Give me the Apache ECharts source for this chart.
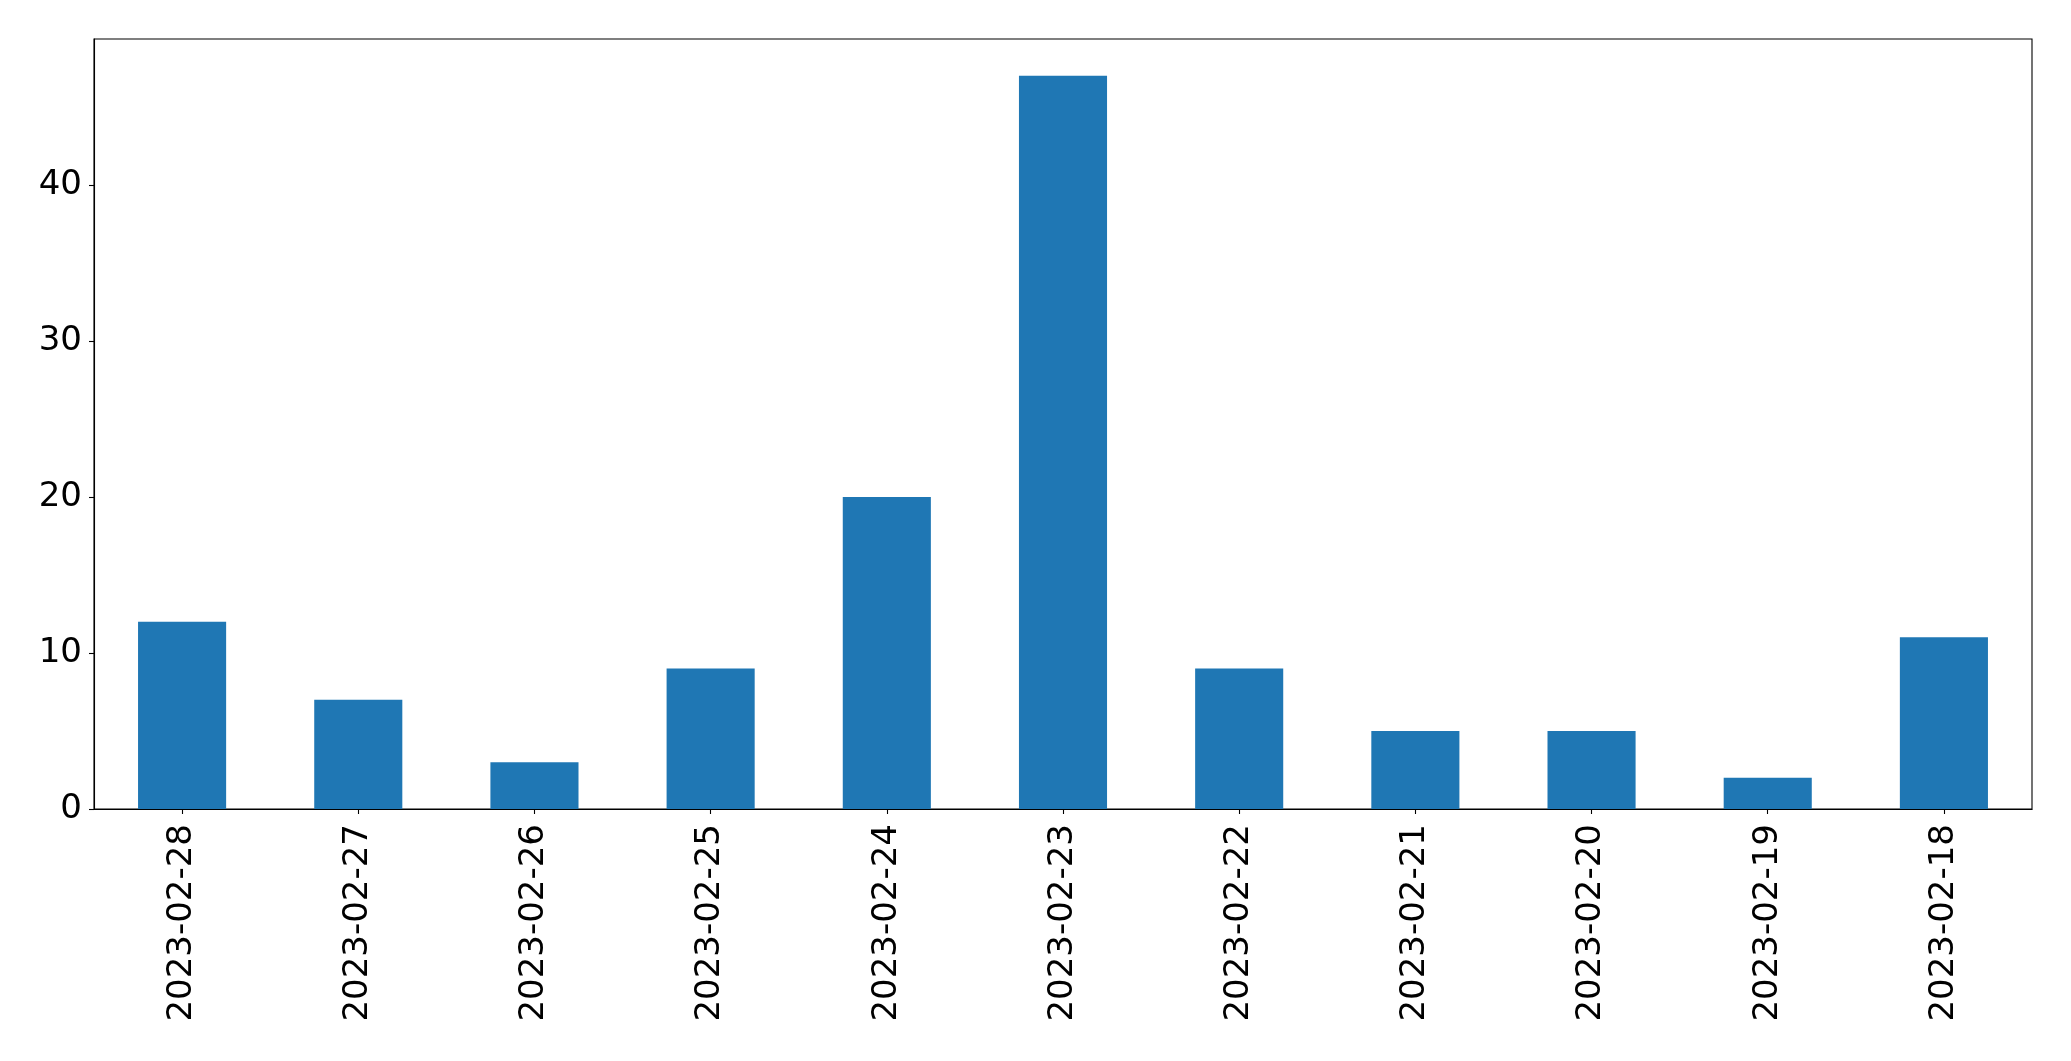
<!DOCTYPE html>
<html>
<head>
<meta charset="utf-8">
<script src="https://cdn.jsdelivr.net/npm/echarts@6/dist/echarts.min.js"></script>
<style>
html,body{margin:0;padding:0;background:#fff;}
#chart{width:2071px;height:1061px;}
</style>
</head>
<body>
<div id="chart"></div>
<script>
const categories = ['2023-02-28','2023-02-27','2023-02-26','2023-02-25','2023-02-24','2023-02-23','2023-02-22','2023-02-21','2023-02-20','2023-02-19','2023-02-18'];
const values = [12, 7, 3, 9, 20, 47, 9, 5, 5, 2, 11];
const yTicks = [0, 10, 20, 30, 40];
const yMax = 49.35;

const chart = echarts.init(document.getElementById('chart'), null, {renderer: 'canvas'});
const font = 'DejaVu Sans';
chart.setOption({
  animation: false,
  backgroundColor: '#ffffff',
  grid: {left: 94, right: 39, top: 39, bottom: 252, show: true, borderColor: '#000', borderWidth: 1.1, containLabel: false},
  xAxis: {
    type: 'category',
    data: categories,
    boundaryGap: true,
    axisLine: {show: true, lineStyle: {color: '#000', width: 1.1}},
    axisTick: {show: true, alignWithLabel: true, length: 5, lineStyle: {color: '#000', width: 1.1}},
    axisLabel: {rotate: 90, margin: 15, color: '#000', fontFamily: font, fontSize: 34, interval: 0},
    splitLine: {show: false}
  },
  yAxis: {
    type: 'value',
    min: 0,
    max: yMax,
    axisLine: {show: true, lineStyle: {color: '#000', width: 1.1}},
    axisTick: {show: true, length: 5, customValues: yTicks, lineStyle: {color: '#000', width: 1.1}},
    axisLabel: {margin: 12, color: '#000', fontFamily: font, fontSize: 34, customValues: yTicks},
    splitLine: {show: false}
  },
  series: [{
    type: 'bar',
    data: values,
    barWidth: '50%',
    itemStyle: {color: '#1f77b4'}
  }]
});
</script>
</body>
</html>
